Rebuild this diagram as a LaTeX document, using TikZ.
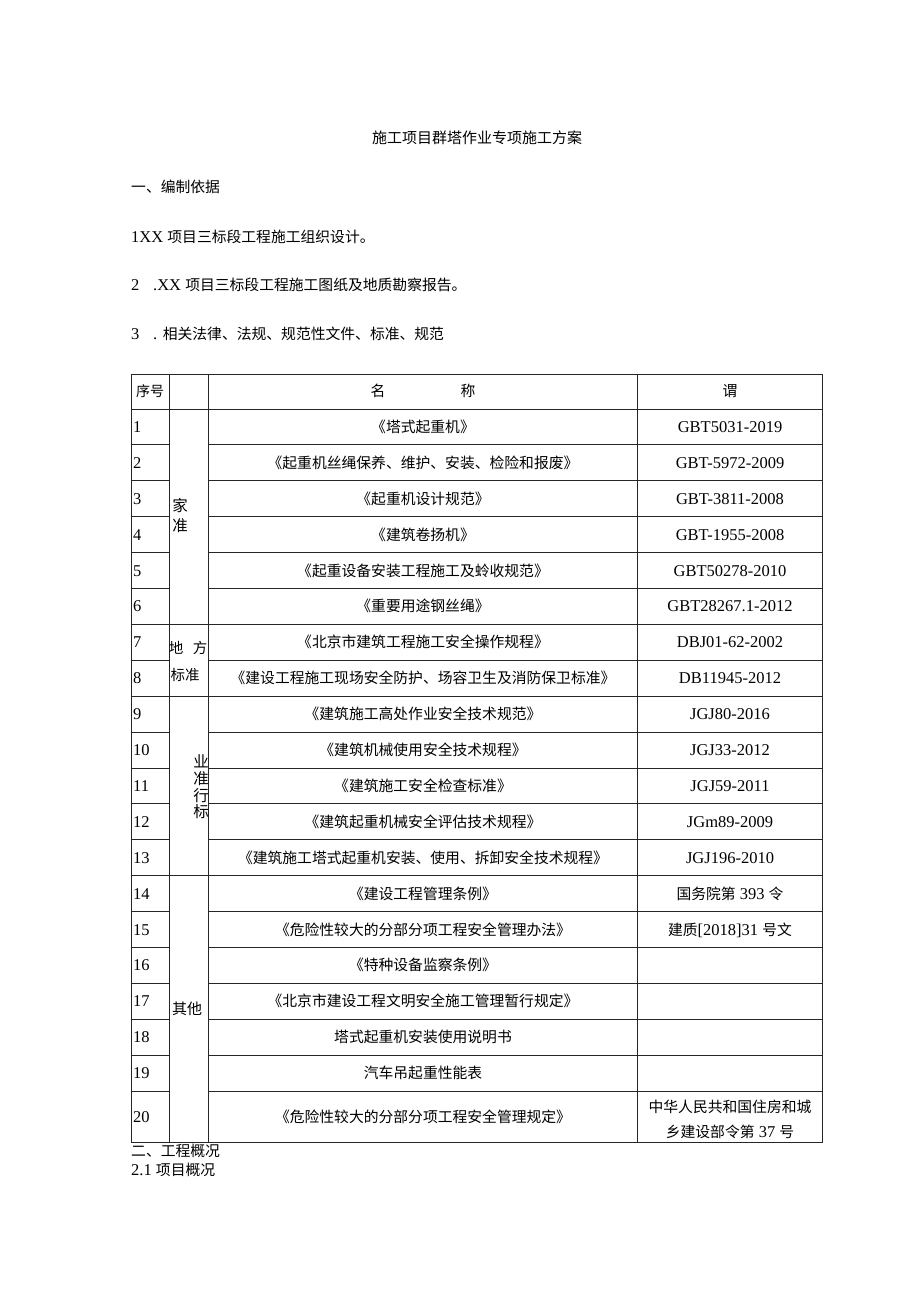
\documentclass[tikz,border=0pt]{standalone}
\usepackage{fontspec}
\setmainfont{Liberation Serif}
\newfontfamily\cjk{Noto Sans CJK SC}
\newcommand\zh[1]{{\cjk\fontsize{14.8}{24}\selectfont #1}}
\newcommand\zhs[2]{{\cjk\fontsize{#1}{24}\selectfont #2}}
\newcommand\tabrow[3]{%
  \node[anchor=base west] (n#1) at (133,{396.55+35.9*#1}) {#1};
  \node[anchor=base] (t#1) at (423,{396.55+35.9*#1}) {\zh{#2}};
  \node[anchor=base] (c#1) at (730,{396.55+35.9*#1}) {#3};}
\begin{document}
\begin{tikzpicture}[x=1pt,y=-1pt,
  every node/.style={inner sep=0pt, font=\fontsize{16.5}{24}\selectfont, text=black},
  grid/.style={draw=black!85, line width=1pt},
  catlabel/.style={anchor=base}]
\useasboundingbox[fill=white] (0,0) rectangle (920,1301);

% ---------- heading texts ----------
\node[anchor=base] (title) at (477,143.5) {\zhs{15}{施工项目群塔作业专项施工方案}};
\node[anchor=base west] (h1) at (131,192.5) {\zh{一、编制依据}};
\node[anchor=base west] (p1) at (131,242.5) {1XX \zh{项目三标段工程施工组织设计。}};
\node[anchor=base west] (p2a) at (131,290.5) {2};
\node[anchor=base west] (p2b) at (153,290.5) {.XX \zh{项目三标段工程施工图纸及地质勘察报告。}};
\node[anchor=base west] (p3a) at (131,339.5) {3};
\node[anchor=base west] (p3b) at (153,339.5) {. \zh{相关法律、法规、规范性文件、标准、规范}};

% ---------- table grid ----------
\draw[grid] (131.5,374) rectangle (822.5,1142);
\draw[grid] (169,374) -- (169,1142);
\draw[grid] (208,374) -- (208,1142);
\draw[grid] (637.5,374) -- (637.5,1142);
\draw[grid] (131.5,409) -- (822.5,409);
\foreach \k in {1,...,19}{
  \draw[grid] (131.5,{409+35.9*\k}) -- (169,{409+35.9*\k});
  \draw[grid] (208,{409+35.9*\k}) -- (822.5,{409+35.9*\k});
}
\foreach \k in {6,8,13}{
  \draw[grid] (169,{409+35.9*\k}) -- (208,{409+35.9*\k});
}

% ---------- header ----------
\node[anchor=base] (hno) at (150,396.5) {\zhs{14}{序号}};
\node[anchor=base] (hname1) at (378,396.5) {\zh{名}};
\node[anchor=base] (hname2) at (468,396.5) {\zh{称}};
\node[anchor=base] (hcode) at (730,396.5) {\zh{谓}};

% ---------- category labels ----------
\node[catlabel] (g1a) at (180,511.5) {\zhs{15.5}{家}};
\node[catlabel] (g1b) at (180,531.5) {\zhs{15.5}{准}};
\node[catlabel] (g2a) at (176,653.5) {\zhs{14.5}{地}};
\node[catlabel] (g2b) at (200,653.5) {\zhs{14.5}{方}};
\node[catlabel] (g2c) at (185,680.5) {\zhs{14.5}{标准}};
\node[catlabel] (g3a) at (201,767.5) {\zhs{15.5}{业}};
\node[catlabel] (g3b) at (201,784.5) {\zhs{15.5}{准}};
\node[catlabel] (g3c) at (201,801.5) {\zhs{15.5}{行}};
\node[catlabel] (g3d) at (201,817.5) {\zhs{15.5}{标}};
\node[catlabel] (g4) at (187,1014.5) {\zhs{15}{其他}};

% ---------- rows ----------
\tabrow{1}{《塔式起重机》}{GBT5031-2019}
\tabrow{2}{《起重机丝绳保养、维护、安装、检险和报废》}{GBT-5972-2009}
\tabrow{3}{《起重机设计规范》}{GBT-3811-2008}
\tabrow{4}{《建筑卷扬机》}{GBT-1955-2008}
\tabrow{5}{《起重设备安装工程施工及蛉收规范》}{GBT50278-2010}
\tabrow{6}{《重要用途钢丝绳》}{GBT28267.1-2012}
\tabrow{7}{《北京市建筑工程施工安全操作规程》}{DBJ01-62-2002}
\tabrow{8}{《建设工程施工现场安全防护、场容卫生及消防保卫标准》}{DB11945-2012}
\tabrow{9}{《建筑施工高处作业安全技术规范》}{JGJ80-2016}
\tabrow{10}{《建筑机械使用安全技术规程》}{JGJ33-2012}
\tabrow{11}{《建筑施工安全检查标准》}{JGJ59-2011}
\tabrow{12}{《建筑起重机械安全评估技术规程》}{JGm89-2009}
\tabrow{13}{《建筑施工塔式起重机安装、使用、拆卸安全技术规程》}{JGJ196-2010}
\tabrow{14}{《建设工程管理条例》}{\zh{国务院第} 393 \zh{令}}
\tabrow{15}{《危险性较大的分部分项工程安全管理办法》}{\zh{建质}[2018]31 \zh{号文}}
\tabrow{16}{《特种设备监察条例》}{}
\tabrow{17}{《北京市建设工程文明安全施工管理暂行规定》}{}
\tabrow{18}{塔式起重机安装使用说明书}{}
\tabrow{19}{汽车吊起重性能表}{}
\node[anchor=base west] (n20) at (133,1122.5) {20};
\node[anchor=base] (t20) at (423,1122.5) {\zh{《危险性较大的分部分项工程安全管理规定》}};
\node[anchor=base] (c20a) at (730,1112.5) {\zh{中华人民共和国住房和城}};
\node[anchor=base] (c20b) at (730,1137.5) {\zh{乡建设部令第} 37 \zh{号}};

% ---------- footer texts ----------
\node[anchor=base west] (h2) at (131,1156.5) {\zh{二、工程概况}};
\node[anchor=base west] (h21) at (131,1175.5) {2.1 \zh{项目概况}};
\end{tikzpicture}
\end{document}
